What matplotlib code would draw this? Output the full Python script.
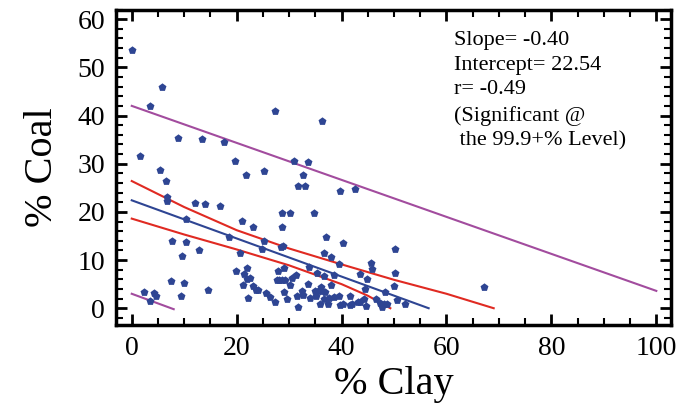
import numpy as np
import matplotlib
matplotlib.use('Agg')
import matplotlib.pyplot as plt
from matplotlib.ticker import MultipleLocator

# scatter data (% clay, % coal)
clay = [0, 5.8, 3.5, 27.4, 36.2, 8.9, 13.4, 17.5, 1.6, 19.6, 30.9, 33.6, 5.3, 25.2,
        21.8, 32.6, 6.6, 31.6, 33.1, 39.7, 42.5, 6.8, 6.7, 12.0, 13.9, 16.8, 28.7,
        30.2, 34.8, 10.4, 21.0, 23.1, 28.7, 18.5, 37.1, 7.7, 25.3, 10.3, 40.2, 12.9,
        24.8, 28.5, 28.9, 50.2, 9.6, 20.7, 36.7, 37.9, 45.7, 45.8, 39.5, 50.2, 19.9,
        21.9, 27.9, 29.0, 33.7, 43.5, 35.3, 36.6, 38.5, 44.8, 7.5, 10.0, 21.4, 22.6,
        21.9, 21.3, 23.1, 23.6, 24.1, 25.6, 26.3, 27.3, 27.6, 28.0, 28.6, 29.3, 30.1,
        29.1, 29.6, 22.1, 14.5, 9.4, 2.4, 4.2, 4.7, 3.4, 30.6, 31.4, 31.5, 31.6, 32.5,
        32.7, 33.6, 33.9, 35.0, 35.2, 35.5, 36.0, 36.2, 36.8, 35.8, 36.6, 37.4, 37.6,
        37.9, 38.6, 39.5, 39.7, 40.3, 41.7, 41.7, 42.0, 43.1, 43.6, 44.2, 44.6, 46.5,
        47.4, 48.1, 48.7, 48.2, 44.4, 50.5, 50.0, 52.1, 67.1, 47.7]
coal = [53.6, 46.0, 42.0, 40.9, 38.9, 35.3, 35.1, 34.4, 31.5, 30.6, 30.6, 30.3, 28.7, 28.5,
        27.7, 27.7, 26.4, 25.4, 25.4, 24.4, 24.8, 23.1, 22.3, 21.9, 21.6, 21.2, 19.7,
        19.7, 19.7, 18.5, 18.1, 16.8, 16.8, 14.7, 14.7, 14.0, 14.0, 13.7, 13.5, 12.0,
        12.2, 12.8, 12.9, 12.2, 10.9, 11.5, 11.4, 10.6, 9.3, 8.2, 9.1, 7.4, 7.8,
        8.3, 7.8, 8.4, 8.6, 7.1, 7.4, 6.6, 6.8, 6.0, 5.7, 5.3, 7.1, 6.2,
        6.0, 4.8, 4.7, 3.8, 3.8, 3.2, 2.4, 1.2, 5.9, 5.9, 5.9, 5.9, 4.8,
        3.3, 1.9, 2.2, 3.8, 2.6, 3.3, 3.1, 2.6, 1.6, 6.3, 6.9, 2.6, 0.3, 3.6,
        2.8, 5.0, 2.1, 3.6, 2.6, 3.6, 4.5, 3.6, 3.4, 0.9, 1.9, 0.9, 2.1,
        4.8, 2.3, 2.6, 0.6, 0.9, 0.6, 2.6, 0.9, 1.2, 1.3, 1.9, 0.5, 1.9,
        1.1, 0.8, 0.8, 3.3, 3.9, 1.7, 4.7, 0.9, 4.5, 0.3]

# regression line
fit_x = [0, 56.6]
fit_y = [22.4, 0.0]
# confidence band (red)
conf_hi_x = [0, 10, 20, 30, 40, 50, 60, 69]
conf_hi_y = [26.4, 21.0, 16.2, 12.4, 9.1, 5.9, 3.0, 0.0]
conf_lo_x = [0, 10, 20, 30, 40, 45, 49.3]
conf_lo_y = [18.6, 15.3, 12.2, 8.9, 5.0, 2.6, 0.0]
# prediction band (magenta)
pred_hi_x = [0, 100]
pred_hi_y = [42.0, 3.6]
pred_lo_x = [0, 8]
pred_lo_y = [3.0, -0.2]

stats_text = ('Slope= -0.40\nIntercept= 22.54\nr= -0.49\n'
              '(Significant @\n the 99.9+% Level)')

plt.rcParams['font.family'] = ['Liberation Serif', 'DejaVu Serif']

fig = plt.figure(figsize=(6.76, 4.05), dpi=100)
ax = fig.add_axes([0.1716, 0.1985, 0.821, 0.778])

ax.plot(pred_hi_x, pred_hi_y, color='#A24C9E', lw=1.5)
ax.plot(pred_lo_x, pred_lo_y, color='#A24C9E', lw=1.5)
ax.plot(conf_hi_x, conf_hi_y, color='#E02A22', lw=1.5)
ax.plot(conf_lo_x, conf_lo_y, color='#E02A22', lw=1.5)
ax.plot(fit_x, fit_y, color='#2E4593', lw=1.5)
ax.scatter(clay, coal, marker='p', s=36, color='#2E4593', zorder=3, linewidths=0)

ax.text(61.4, 57.6, stats_text, fontsize=16, va='top', ha='left', linespacing=1.42)

ax.set_xlim(-3, 102.8)
ax.set_ylim(-3.4, 62)
ax.xaxis.set_major_locator(MultipleLocator(20))
ax.xaxis.set_minor_locator(MultipleLocator(5))
ax.yaxis.set_major_locator(MultipleLocator(10))
ax.yaxis.set_minor_locator(MultipleLocator(2))
ax.tick_params(which='both', direction='in', top=True, right=True, labelsize=20)
ax.tick_params(which='major', length=8, width=2, pad=8)
ax.tick_params(which='minor', length=5, width=1.5)
for sp in ax.spines.values():
    sp.set_linewidth(2.5)

ax.set_xlabel('% Clay', fontsize=29, labelpad=4)
ax.set_ylabel('% Coal', fontsize=29, labelpad=12)

fig.savefig('out.png', dpi=100)
